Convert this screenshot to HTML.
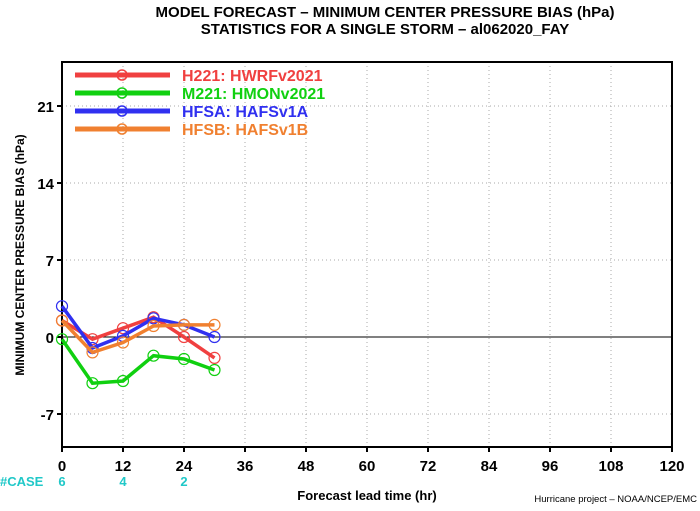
<!DOCTYPE html>
<html><head><meta charset="utf-8"><style>
body{margin:0;background:#fff;}
svg text{font-family:"Liberation Sans",sans-serif;}
</style></head><body>
<svg id="chart" width="700" height="506" xmlns="http://www.w3.org/2000/svg">
<text x="385" y="17" text-anchor="middle" font-size="15" font-weight="bold">MODEL FORECAST – MINIMUM CENTER PRESSURE BIAS (hPa)</text>
<text x="385" y="34" text-anchor="middle" font-size="15" font-weight="bold">STATISTICS FOR A SINGLE STORM – al062020_FAY</text>
<g id="grid"></g>
<g id="axes"></g>
<g id="series"></g>
<g id="legend"></g>
<text transform="translate(24,255) rotate(-90)" text-anchor="middle" font-size="12" font-weight="bold">MINIMUM CENTER PRESSURE BIAS (hPa)</text>
<text x="367" y="500" text-anchor="middle" font-size="13" font-weight="bold">Forecast lead time (hr)</text>
<text x="697" y="502" text-anchor="end" font-size="9.5">Hurricane project – NOAA/NCEP/EMC</text>
<text x="0" y="486" font-size="13" font-weight="bold" fill="#20c8c8">#CASE</text>
</svg>
<script>
const xTicks=[0,12,24,36,48,60,72,84,96,108,120];
const yTicks=[-7,0,7,14,21];
const leads=[0,6,12,18,24,30];
const seriesNames=["H221: HWRFv2021","M221: HMONv2021","HFSA: HAFSv1A","HFSB: HAFSv1B"];
const h221=[1.5,-0.2,0.8,1.8,0,-1.9];
const m221=[-0.2,-4.2,-4.0,-1.7,-2.0,-3.0];
const hfsa=[2.8,-1.0,0.1,1.7,1.1,0];
const hfsb=[1.5,-1.4,-0.5,1.0,1.1,1.1];
const caseLeads=[0,12,24];
const caseCounts=[6,4,2];
const colors=["#f04040","#10d010","#3030f0","#f08030"];
const X0=62,X1=672,Y0=447,Y1=62,xMin=0,xMax=120,yMin=-10,yMax=25;
const xs=v=>X0+(v-xMin)/(xMax-xMin)*(X1-X0);
const ys=v=>Y0-(v-yMin)/(yMax-yMin)*(Y0-Y1);
const NS="http://www.w3.org/2000/svg";
function mk(t,a,p){const e=document.createElementNS(NS,t);for(const k in a)e.setAttribute(k,a[k]);p.appendChild(e);return e;}
const grid=document.getElementById('grid'),axes=document.getElementById('axes'),ser=document.getElementById('series'),leg=document.getElementById('legend');
xTicks.forEach(t=>{
 if(t>xMin&&t<xMax){const l=mk('line',{x1:xs(t),x2:xs(t),y1:Y1,y2:Y0,stroke:'#aaa','stroke-dasharray':'1,3'},grid);
 
 }
 const tk=mk('line',{x1:xs(t),x2:xs(t),y1:Y0,y2:Y0+5,stroke:'#000','stroke-width':2},axes);
 
 
 const tx=mk('text',{x:xs(t),y:471,'text-anchor':'middle','font-size':15,'font-weight':'bold'},axes);
 tx.textContent=t;
 
 
});
yTicks.forEach(t=>{
 if(t!==0){const l=mk('line',{x1:X0,x2:X1,y1:ys(t),y2:ys(t),stroke:'#aaa','stroke-dasharray':'1,3'},grid);
 
 }
 const tk=mk('line',{x1:X0-5,x2:X0,y1:ys(t),y2:ys(t),stroke:'#000','stroke-width':2},axes);
 
 
 const tx=mk('text',{x:X0-8,y:ys(t)+6,'text-anchor':'end','font-size':15,'font-weight':'bold'},axes);
 tx.textContent=t;
 
 
});
const zl=mk('line',{x1:X0,x2:X1,y1:ys(0),y2:ys(0),stroke:'#000','stroke-width':1},axes);


const fr=mk('rect',{x:X0,y:Y1,width:X1-X0,height:Y0-Y1,fill:'none',stroke:'#000','stroke-width':2},axes);


[h221,m221,hfsa,hfsb].forEach((d,i)=>{
 const g=mk('g',{},ser);
 
 
 const pl=mk('polyline',{points:d.map((v,j)=>xs(leads[j])+','+ys(v)).join(' '),fill:'none',stroke:colors[i],'stroke-width':3.5},g);
 
 
 d.forEach((v,j)=>{const c=mk('circle',{cx:xs(leads[j]),cy:ys(v),r:5.5,fill:'none',stroke:colors[i],'stroke-width':1.2},g);
 
 });
 const ly=75+i*18;
 const lg=mk('g',{},leg);
 
 
 mk('line',{x1:75,x2:170,y1:ly,y2:ly,stroke:colors[i],'stroke-width':5},lg);
 mk('circle',{cx:122,cy:ly,r:5,fill:'none',stroke:colors[i],'stroke-width':1.5},lg);
 const t=mk('text',{x:182,y:ly+6,fill:colors[i],'font-size':16,'font-weight':'bold'},lg);
 t.textContent=seriesNames[i];
});
caseLeads.forEach((c,i)=>{
 const t=mk('text',{x:xs(c),y:486,'text-anchor':'middle','font-size':13,'font-weight':'bold',fill:'#20c8c8'},axes);
 t.textContent=caseCounts[i];
 
 
});
</script>
</body></html>
